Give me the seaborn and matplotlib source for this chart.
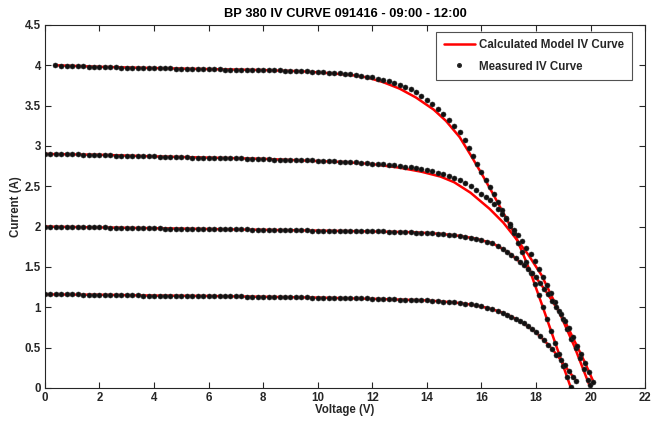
import matplotlib
matplotlib.use("Agg")
import matplotlib.pyplot as plt
import seaborn as sns
from matplotlib.lines import Line2D

# ---------------- data ----------------
# Calculated model curves
A_model_v = [0.37, 2.0, 4.0, 6.0, 8.0, 9.4, 10.5, 11.2, 11.8, 12.4, 13.0, 13.6, 14.25, 14.7, 15.2, 15.6, 16.0, 16.4, 16.8, 17.2, 17.55, 17.8, 18.2, 18.6, 19.0, 19.28]
A_model_i = [4.00, 3.98, 3.965, 3.952, 3.94, 3.925, 3.90, 3.88, 3.85, 3.79, 3.71, 3.60, 3.45, 3.31, 3.11, 2.89, 2.66, 2.42, 2.17, 1.92, 1.64, 1.43, 1.05, 0.66, 0.27, 0.0]

B_model_v = [0.0, 2.0, 4.0, 6.0, 8.0, 9.4, 11.0, 12.0, 13.0, 13.8, 14.5, 15.0, 15.6, 16.3, 16.8, 17.2, 17.7, 18.2, 18.8, 19.4, 19.95]
B_model_i = [2.90, 2.89, 2.87, 2.855, 2.84, 2.82, 2.80, 2.775, 2.73, 2.68, 2.62, 2.55, 2.42, 2.22, 2.05, 1.88, 1.66, 1.40, 0.98, 0.52, 0.04]

C_model_v = [0.0, 2.0, 4.0, 6.0, 8.0, 10.0, 12.0, 13.5, 14.5, 15.2, 15.8, 16.4, 16.8, 17.1, 17.45, 17.7, 18.0, 18.4, 18.8, 19.1, 19.5, 19.8, 20.1]
C_model_i = [2.00, 1.99, 1.98, 1.97, 1.96, 1.95, 1.94, 1.93, 1.91, 1.885, 1.85, 1.795, 1.72, 1.65, 1.55, 1.48, 1.37, 1.18, 0.97, 0.80, 0.52, 0.31, 0.08]

D_model_v = [0.0, 2.0, 4.0, 6.0, 8.0, 10.0, 12.0, 13.0, 14.0, 15.0, 15.6, 16.0, 16.4, 16.8, 17.1, 17.4, 17.7, 18.0, 18.3, 18.6, 18.9, 19.2, 19.47]
D_model_i = [1.16, 1.155, 1.145, 1.14, 1.13, 1.12, 1.105, 1.095, 1.085, 1.06, 1.035, 1.01, 0.975, 0.93, 0.885, 0.83, 0.765, 0.69, 0.59, 0.48, 0.35, 0.21, 0.09]

# Measured points
A_meas_v = [0.37, 0.6, 0.8, 1.0, 1.2, 1.4, 1.6, 1.8, 2.0, 2.2,
            2.4, 2.6, 2.8, 3.0, 3.2, 3.4, 3.6, 3.8, 4.0, 4.2,
            4.4, 4.6, 4.8, 5.0, 5.2, 5.4, 5.6, 5.8, 6.0, 6.2,
            6.4, 6.6, 6.8, 7.0, 7.2, 7.4, 7.6, 7.8, 8.0, 8.2,
            8.4, 8.6, 8.8, 9.0, 9.2, 9.4, 9.6, 9.8, 10.0, 10.2,
            10.4, 10.6, 10.8, 11.0, 11.2, 11.4, 11.6, 11.8, 12.0, 12.2,
            12.4, 12.6, 12.8, 13.0, 13.2, 13.4, 13.6, 13.8, 14.0, 14.2,
            14.4, 14.6, 14.8, 15.0, 15.2, 15.4,
            15.55, 15.7, 15.85, 16.0, 16.15, 16.3, 16.45, 16.6, 16.75, 16.9,
            17.05, 17.2, 17.35, 17.5, 17.65, 17.8, 17.95, 18.1, 18.25, 18.4,
            18.55, 18.7, 18.85, 19.0, 19.15, 19.3]
A_meas_i = [4.00, 3.99, 3.99, 3.99, 3.985, 3.985, 3.98, 3.98, 3.98, 3.975,
            3.975, 3.975, 3.97, 3.97, 3.97, 3.965, 3.965, 3.965, 3.96, 3.96,
            3.96, 3.96, 3.955, 3.955, 3.955, 3.955, 3.95, 3.95, 3.95, 3.95,
            3.95, 3.945, 3.945, 3.945, 3.94, 3.94, 3.94, 3.94, 3.935, 3.935,
            3.935, 3.935, 3.93, 3.93, 3.93, 3.925, 3.925, 3.92, 3.92, 3.915,
            3.91, 3.905, 3.90, 3.895, 3.89, 3.88, 3.87, 3.86, 3.85, 3.835,
            3.82, 3.80, 3.78, 3.755, 3.73, 3.70, 3.665, 3.62, 3.575, 3.52,
            3.46, 3.395, 3.325, 3.25, 3.17, 3.07,
            2.98, 2.88, 2.78, 2.68, 2.58, 2.49, 2.40, 2.30, 2.20, 2.11,
            2.01, 1.92, 1.80, 1.68, 1.56, 1.43, 1.29, 1.15, 1.00, 0.86,
            0.71, 0.56, 0.42, 0.27, 0.13, 0.01]

B_meas_v = [0.0, 0.2, 0.4, 0.6, 0.8, 1.0, 1.2, 1.4, 1.6, 1.8,
            2.0, 2.2, 2.4, 2.6, 2.8, 3.0, 3.2, 3.4, 3.6, 3.8,
            4.0, 4.2, 4.4, 4.6, 4.8, 5.0, 5.2, 5.4, 5.6, 5.8,
            6.0, 6.2, 6.4, 6.6, 6.8, 7.0, 7.2, 7.4, 7.6, 7.8,
            8.0, 8.2, 8.4, 8.6, 8.8, 9.0, 9.2, 9.4, 9.6, 9.8,
            10.0, 10.2, 10.4, 10.6, 10.8, 11.0, 11.2, 11.4, 11.6, 11.8,
            12.0, 12.2, 12.4, 12.6, 12.8, 13.0, 13.2, 13.4, 13.6, 13.8,
            14.0, 14.2, 14.4, 14.6, 14.8, 15.0, 15.2, 15.4, 15.6, 15.8,
            16.0,
            16.15, 16.3, 16.45, 16.6, 16.75, 16.9, 17.05, 17.2, 17.35, 17.5,
            17.65, 17.8, 17.95, 18.1, 18.25, 18.4, 18.55, 18.7, 18.85, 19.0,
            19.15, 19.3, 19.45, 19.6, 19.75, 19.9, 19.97]
B_meas_i = [2.90, 2.90, 2.90, 2.90, 2.895, 2.895, 2.895, 2.89, 2.89, 2.89,
            2.89, 2.885, 2.885, 2.88, 2.88, 2.88, 2.875, 2.875, 2.87, 2.87,
            2.87, 2.865, 2.865, 2.86, 2.86, 2.86, 2.86, 2.855, 2.855, 2.855,
            2.855, 2.85, 2.85, 2.85, 2.845, 2.845, 2.845, 2.84, 2.84, 2.84,
            2.835, 2.835, 2.83, 2.83, 2.83, 2.825, 2.825, 2.82, 2.82, 2.82,
            2.815, 2.815, 2.81, 2.81, 2.805, 2.80, 2.80, 2.795, 2.79, 2.785,
            2.78, 2.775, 2.77, 2.765, 2.76, 2.755, 2.745, 2.735, 2.725, 2.715,
            2.70, 2.685, 2.67, 2.65, 2.63, 2.605, 2.575, 2.54, 2.50, 2.455,
            2.41,
            2.37, 2.33, 2.28, 2.22, 2.16, 2.10, 2.03, 1.96, 1.89, 1.82,
            1.74, 1.66, 1.57, 1.48, 1.38, 1.28, 1.18, 1.07, 0.96, 0.85,
            0.73, 0.61, 0.49, 0.37, 0.24, 0.10, 0.04]

C_meas_v = [0.0, 0.2, 0.4, 0.6, 0.8, 1.0, 1.2, 1.4, 1.6, 1.8,
            2.0, 2.2, 2.4, 2.6, 2.8, 3.0, 3.2, 3.4, 3.6, 3.8,
            4.0, 4.2, 4.4, 4.6, 4.8, 5.0, 5.2, 5.4, 5.6, 5.8,
            6.0, 6.2, 6.4, 6.6, 6.8, 7.0, 7.2, 7.4, 7.6, 7.8,
            8.0, 8.2, 8.4, 8.6, 8.8, 9.0, 9.2, 9.4, 9.6, 9.8,
            10.0, 10.2, 10.4, 10.6, 10.8, 11.0, 11.2, 11.4, 11.6, 11.8,
            12.0, 12.2, 12.4, 12.6, 12.8, 13.0, 13.2, 13.4, 13.6, 13.8,
            14.0, 14.2, 14.4, 14.6, 14.8, 15.0, 15.2, 15.4, 15.6, 15.8,
            16.0, 16.2, 16.4, 16.6, 16.8,
            16.95, 17.1, 17.25, 17.4, 17.55, 17.7, 17.85, 18.0, 18.15, 18.3,
            18.45, 18.6, 18.75, 18.9, 19.05, 19.2, 19.35, 19.5, 19.65, 19.8,
            19.95, 20.1]
C_meas_i = [2.00, 2.00, 2.00, 1.995, 1.995, 1.995, 1.995, 1.99, 1.99, 1.99,
            1.99, 1.99, 1.985, 1.985, 1.985, 1.985, 1.985, 1.98, 1.98, 1.98,
            1.98, 1.98, 1.975, 1.975, 1.975, 1.975, 1.975, 1.975, 1.97, 1.97,
            1.97, 1.97, 1.97, 1.965, 1.965, 1.965, 1.965, 1.965, 1.96, 1.96,
            1.96, 1.96, 1.96, 1.96, 1.955, 1.955, 1.955, 1.955, 1.955, 1.95,
            1.95, 1.95, 1.95, 1.95, 1.945, 1.945, 1.945, 1.945, 1.945, 1.94,
            1.94, 1.94, 1.94, 1.935, 1.935, 1.935, 1.93, 1.93, 1.925, 1.925,
            1.92, 1.915, 1.91, 1.905, 1.90, 1.895, 1.885, 1.875, 1.865, 1.85,
            1.835, 1.815, 1.795, 1.76, 1.725,
            1.69, 1.65, 1.61, 1.565, 1.52, 1.48, 1.43, 1.37, 1.30, 1.23,
            1.16, 1.08, 1.00, 0.92, 0.83, 0.74, 0.63, 0.52, 0.42, 0.31,
            0.20, 0.08]

D_meas_v = [0.0, 0.2, 0.4, 0.6, 0.8, 1.0, 1.2, 1.4, 1.6, 1.8,
            2.0, 2.2, 2.4, 2.6, 2.8, 3.0, 3.2, 3.4, 3.6, 3.8,
            4.0, 4.2, 4.4, 4.6, 4.8, 5.0, 5.2, 5.4, 5.6, 5.8,
            6.0, 6.2, 6.4, 6.6, 6.8, 7.0, 7.2, 7.4, 7.6, 7.8,
            8.0, 8.2, 8.4, 8.6, 8.8, 9.0, 9.2, 9.4, 9.6, 9.8,
            10.0, 10.2, 10.4, 10.6, 10.8, 11.0, 11.2, 11.4, 11.6, 11.8,
            12.0, 12.2, 12.4, 12.6, 12.8, 13.0, 13.2, 13.4, 13.6, 13.8,
            14.0, 14.2, 14.4, 14.6, 14.8, 15.0, 15.2, 15.4, 15.6, 15.8,
            16.0, 16.2, 16.4, 16.6, 16.8,
            16.95, 17.1, 17.25, 17.4, 17.55, 17.7, 17.85, 18.0, 18.15, 18.3,
            18.45, 18.6, 18.75, 18.9, 19.05, 19.2, 19.35, 19.47]
D_meas_i = [1.16, 1.16, 1.16, 1.16, 1.16, 1.16, 1.16, 1.155, 1.155, 1.155,
            1.155, 1.155, 1.15, 1.15, 1.15, 1.15, 1.15, 1.15, 1.145, 1.145,
            1.145, 1.145, 1.145, 1.145, 1.14, 1.14, 1.14, 1.14, 1.14, 1.14,
            1.14, 1.135, 1.135, 1.135, 1.135, 1.135, 1.135, 1.13, 1.13, 1.13,
            1.13, 1.13, 1.13, 1.13, 1.125, 1.125, 1.125, 1.125, 1.125, 1.12,
            1.12, 1.12, 1.12, 1.115, 1.115, 1.115, 1.115, 1.11, 1.11, 1.11,
            1.105, 1.105, 1.10, 1.10, 1.10, 1.095, 1.095, 1.09, 1.09, 1.085,
            1.085, 1.08, 1.075, 1.07, 1.065, 1.06, 1.055, 1.045, 1.035, 1.025,
            1.01, 0.995, 0.975, 0.955, 0.93,
            0.91, 0.885, 0.86, 0.83, 0.80, 0.765, 0.73, 0.69, 0.64, 0.59,
            0.535, 0.48, 0.415, 0.35, 0.28, 0.21, 0.14, 0.09]

x_ticks = [0, 2, 4, 6, 8, 10, 12, 14, 16, 18, 20, 22]
y_ticks = [0, 0.5, 1, 1.5, 2, 2.5, 3, 3.5, 4, 4.5]
y_tick_labels = ["0", "0.5", "1", "1.5", "2", "2.5", "3", "3.5", "4", "4.5"]
title = "BP 380 IV CURVE 091416 - 09:00 - 12:00"
legend_labels = ["Calculated Model IV Curve", "Measured IV Curve"]

# ---------------- plotting ----------------
sns.set_theme(style="white")
plt.rcParams["font.family"] = ["Liberation Sans", "DejaVu Sans"]
plt.rcParams["font.weight"] = "bold"

fig, ax = plt.subplots(figsize=(6.51, 4.22), dpi=100)
fig.subplots_adjust(left=0.069, right=0.991, bottom=0.0806, top=0.941)

models = [(A_model_v, A_model_i), (B_model_v, B_model_i), (C_model_v, C_model_i), (D_model_v, D_model_i)]
meas = [(A_meas_v, A_meas_i), (B_meas_v, B_meas_i), (C_meas_v, C_meas_i), (D_meas_v, D_meas_i)]

for v, i in models:
    sns.lineplot(x=v, y=i, ax=ax, color="#ff0000", linewidth=1.8, sort=False,
                 estimator=None, legend=False, zorder=2)
for v, i in meas:
    sns.scatterplot(x=v, y=i, ax=ax, color="#111111", s=13, edgecolor="#2a2a2a",
                    linewidth=0.4, legend=False, zorder=3)

ax.set_xlim(0, 22)
ax.set_ylim(0, 4.5)
ax.set_xticks(x_ticks)
ax.set_xticklabels([str(t) for t in x_ticks])
ax.set_yticks(y_ticks)
ax.set_yticklabels(y_tick_labels)

for s in ax.spines.values():
    s.set_color("#262626")
    s.set_linewidth(0.8)
    s.set_visible(True)

ax.tick_params(direction="in", length=4, width=0.8, top=True, right=True,
               bottom=True, left=True, colors="#262626", labelsize=8.3, pad=3)
for lab in ax.get_xticklabels() + ax.get_yticklabels():
    lab.set_fontweight("bold")

ax.set_xlabel("Voltage (V)", fontsize=8.3, fontweight="bold", color="#262626", labelpad=0)
ax.set_ylabel("Current (A)", fontsize=8.3, fontweight="bold", color="#262626", labelpad=2)
ax.set_title(title, fontsize=9.3, fontweight="bold", color="black", pad=6)

handles = [Line2D([], [], color="#ff0000", linewidth=1.8),
           Line2D([], [], linestyle="none", marker="o", markersize=2.6,
                  markerfacecolor="#111111", markeredgecolor="#2a2a2a")]
leg = ax.legend(handles, legend_labels, loc="upper right", bbox_to_anchor=(0.978, 0.981),
                frameon=True, fancybox=False, edgecolor="#262626", fontsize=8.3,
                handlelength=2.7, handletextpad=0.4, labelspacing=0.8,
                borderpad=0.65, borderaxespad=0)
leg.get_frame().set_linewidth(0.8)
for t in leg.get_texts():
    t.set_fontweight("bold")

fig.savefig("out.png", dpi=100)
